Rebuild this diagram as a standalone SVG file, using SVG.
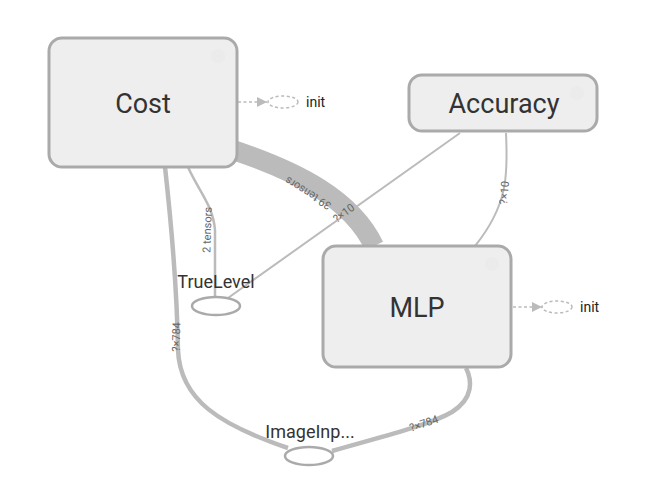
<svg xmlns="http://www.w3.org/2000/svg" width="668" height="496" viewBox="0 0 668 496">
<style>
.box{fill:#eeeeee;stroke:#aaaaaa;stroke-width:3}
.lbl{font-family:Roboto,"Liberation Sans",sans-serif;fill:#333;text-anchor:middle}
.big{font-size:27px}
.small{font-size:18px}
.edge{fill:none;stroke:#bbbbbb;stroke-linecap:butt}
.elbl{font-family:Roboto,"Liberation Sans",sans-serif;font-size:11px;fill:#666;text-anchor:middle}
.op{fill:#fff;stroke:#aaaaaa;stroke-width:2.5}
.cst{fill:none;stroke:#bbbbbb;stroke-width:1.5;stroke-dasharray:3 2.5}
.init{font-family:Roboto,"Liberation Sans",sans-serif;font-size:14px;fill:#222}
.icon{fill:#e6e6e6;opacity:0.35}
</style>
<defs>
<marker id="arr" viewBox="0 0 10 10" refX="10" refY="5" markerWidth="10" markerHeight="10" markerUnits="userSpaceOnUse" orient="auto">
<path d="M0,0 L10,5 L0,10 z" fill="#bbbbbb"/>
</marker>
</defs>
<g id="edges">
<path class="edge" d="M230,149 C300,172 352,200 374,246" stroke-width="20"/>
<path class="edge" d="M460,133 L228,298" stroke-width="2"/>
<path class="edge" d="M506,133 C508,175 508,205 475,246" stroke-width="2"/>
<path class="edge" d="M188,167 C198,190 213,205 215,230 L215,297" stroke-width="2.5"/>
<path class="edge" d="M165,167 C172,230 177,290 178,350 C180,400 220,425 288,448" stroke-width="4.5"/>
<path class="edge" d="M332,451 C380,437 430,425 452,412 C474,398 472,380 466,368" stroke-width="4.5"/>
<text class="elbl" transform="translate(310,190) rotate(-148)">39 tensors</text>
<text class="elbl" transform="translate(346,216) rotate(-37)">?×10</text>
<text class="elbl" transform="translate(508,193) rotate(-85)">?×10</text>
<text class="elbl" transform="translate(211,230) rotate(-88)">2 tensors</text>
<text class="elbl" transform="translate(180,337) rotate(-89)">?×784</text>
<text class="elbl" transform="translate(425,427) rotate(-19)">?×784</text>
<path class="cst" d="M238,102 L267,102" marker-end="url(#arr)"/>
<path class="cst" d="M513,307 L542,307" marker-end="url(#arr)"/>
</g>
<g id="node-cost">
<rect class="box" x="49" y="38" width="188" height="129" rx="13"/>
<circle class="icon" cx="218" cy="56" r="7"/>
<text class="lbl big" x="143" y="113">Cost</text>
</g>
<g id="node-cost-init">
<ellipse cx="283" cy="102" rx="15" ry="6" class="cst"/>
<text class="init" x="306" y="107">init</text>
</g>
<g id="node-accuracy">
<rect class="box" x="409" y="75" width="188" height="56" rx="13"/>
<circle class="icon" cx="577" cy="93" r="7"/>
<text class="lbl big" x="504" y="113">Accuracy</text>
</g>
<g id="node-mlp">
<rect class="box" x="323" y="246" width="188" height="121" rx="13"/>
<circle class="icon" cx="492" cy="264" r="7"/>
<text class="lbl big" x="417" y="317">MLP</text>
</g>
<g id="node-mlp-init">
<ellipse cx="557" cy="307" rx="15" ry="6" class="cst"/>
<text class="init" x="580" y="312">init</text>
</g>
<g id="node-truelevel">
<ellipse class="op" cx="216" cy="306" rx="24" ry="9"/>
<text class="lbl small" x="216" y="288">TrueLevel</text>
</g>
<g id="node-imageinput">
<ellipse class="op" cx="309" cy="456" rx="24" ry="9"/>
<text class="lbl small" x="310" y="438">ImageInp...</text>
</g>
</svg>
